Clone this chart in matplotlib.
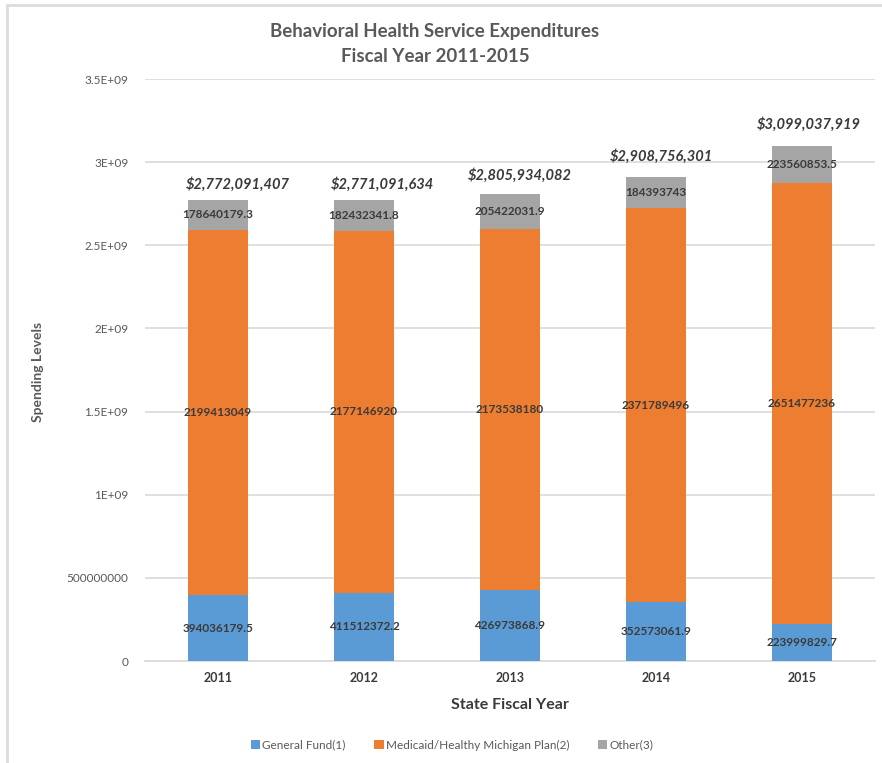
import matplotlib
matplotlib.use("Agg")
import matplotlib.pyplot as plt
from matplotlib.lines import Line2D
from matplotlib.patches import Patch
import numpy as np

plt.rcParams['font.family'] = ['Lato', 'DejaVu Sans']

years = ["2011", "2012", "2013", "2014", "2015"]
general_fund = [394036179.5, 411512372.2, 426973868.9, 352573061.9, 223999829.7]
medicaid = [2199413049, 2177146920, 2173538180, 2371789496, 2651477236]
other = [178640179.3, 182432341.8, 205422031.9, 184393743, 223560853.5]
totals = [2772091407, 2771091634, 2805934082, 2908756301, 3099037919]
series_names = ["General Fund(1)", "Medicaid/Healthy Michigan Plan(2)", "Other(3)"]
y_ticks = [0, 500000000, 1e9, 1.5e9, 2e9, 2.5e9, 3e9, 3.5e9]
y_tick_labels = ["0", "500000000", "1E+09", "1.5E+09", "2E+09", "2.5E+09", "3E+09", "3.5E+09"]

# hand-placed nudges (in points) for the total callouts above each bar
total_dx = [14, 13, 7, 4, 5]
total_dy = [11, 11, 14, 15, 15]

colors = ["#5b9bd5", "#ed7d31", "#a5a5a5"]
text_dark = "#3a3a3a"
text_grey = "#595959"

W, H = 882, 763
fig = plt.figure(figsize=(W / 100, H / 100), dpi=100)
ax = fig.add_axes([145 / W, 1 - 661 / H, 730 / W, (661 - 79) / H])

x = np.arange(len(years))
width = 0.41
stacks = [general_fund, medicaid, other]
bottom = np.zeros(len(years))
for vals, c, name in zip(stacks, colors, series_names):
    vals = np.array(vals, dtype=float)
    ax.bar(x, vals, width, bottom=bottom, color=c, label=name, zorder=3)
    for xi, b, v in zip(x, bottom, vals):
        ax.text(xi, b + v / 2, f"{v:.10g}", ha="center", va="center",
                fontsize=8.5, fontweight="bold", color=text_dark, zorder=4)
    bottom += vals

for xi, b, t, dx, dy in zip(x, bottom, totals, total_dx, total_dy):
    ax.annotate(f"${t:,}", xy=(xi, b), xytext=(dx, dy), textcoords="offset points",
                ha="center", va="center", fontsize=10.5, fontweight="bold",
                fontstyle="italic", color=text_dark, zorder=4)

ax.set_xlim(-0.5, 4.5)
ax.set_ylim(0, 3.5e9)
ax.set_yticks(y_ticks)
ax.set_yticklabels(y_tick_labels, fontsize=8.5, color=text_grey)
ax.set_xticks(x)
ax.set_xticklabels(years, fontsize=9, fontweight="bold", color=text_dark)
ax.tick_params(axis="both", length=0, pad=12)
ax.tick_params(axis="x", pad=8)
ax.grid(axis="y", color="#d9d9d9", linewidth=1.2, zorder=0)
for s in ["top", "right", "left"]:
    ax.spines[s].set_visible(False)
ax.spines["bottom"].set_color("#d9d9d9")
ax.spines["bottom"].set_linewidth(1.2)

fig.text(435 / W, 1 - 32 / H, "Behavioral Health Service Expenditures",
         ha="center", va="center", fontsize=13.5, fontweight="bold", color=text_grey)
fig.text(435 / W, 1 - 56 / H, "Fiscal Year 2011-2015",
         ha="center", va="center", fontsize=13.5, fontweight="bold", color=text_grey)
fig.text(510 / W, 1 - 705 / H, "State Fiscal Year", ha="center", va="center",
         fontsize=11.5, fontweight="bold", color=text_dark)
fig.text(38 / W, 1 - 372 / H, "Spending Levels", ha="center", va="center",
         rotation=90, fontsize=10, fontweight="bold", color=text_grey)

handles = [Patch(facecolor=c) for c in colors]
fig.legend(handles, series_names, loc="center", bbox_to_anchor=(452 / W, 1 - 745 / H),
           ncol=3, frameon=False, fontsize=8.5, handlelength=0.8, handleheight=0.8,
           handletextpad=0.2, columnspacing=2.4, labelcolor=text_grey)

# light frame around the chart area
fig.add_artist(Line2D([6.5 / W, 1], [1 - 4.5 / H, 1 - 4.5 / H], color="#dcdcdc",
                      linewidth=2, transform=fig.transFigure))
fig.add_artist(Line2D([6.5 / W, 6.5 / W], [0, 1 - 4.5 / H], color="#dcdcdc",
                      linewidth=2, transform=fig.transFigure))

fig.savefig("out.png", dpi=100)
